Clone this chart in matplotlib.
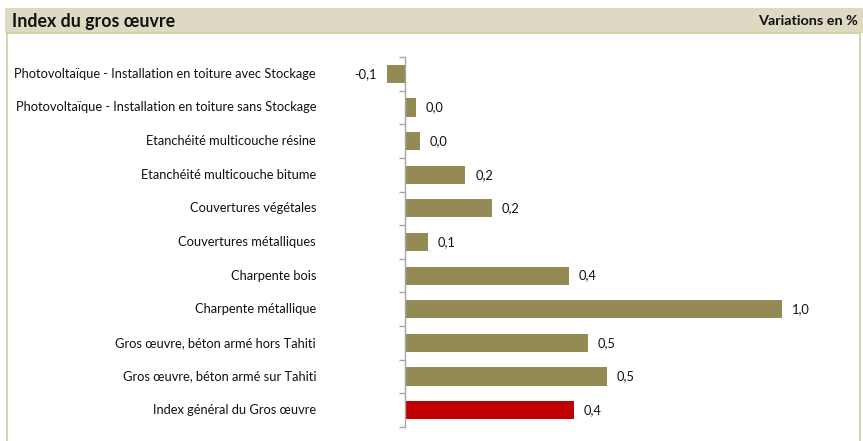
import matplotlib
matplotlib.use("Agg")
import matplotlib.pyplot as plt
from matplotlib.patches import Rectangle
from matplotlib.transforms import blended_transform_factory

categories = [
    "Photovoltaïque - Installation en toiture avec Stockage",
    "Photovoltaïque - Installation en toiture sans Stockage",
    "Etanchéité multicouche résine",
    "Etanchéité multicouche bitume",
    "Couvertures végétales",
    "Couvertures métalliques",
    "Charpente bois",
    "Charpente métallique",
    "Gros œuvre, béton armé hors Tahiti",
    "Gros œuvre, béton armé sur Tahiti",
    "Index général du Gros œuvre",
]
values = [-0.048, 0.029, 0.04, 0.16, 0.23, 0.06, 0.435, 1.0, 0.485, 0.536, 0.448]
value_labels = ["-0,1", "0,0", "0,0", "0,2", "0,2", "0,1", "0,4", "1,0", "0,5", "0,5", "0,4"]
title = "Index du gros œuvre"
subtitle = "Variations en %"

W, H = 863, 441
plt.rcParams['font.family'] = ['Lato', 'DejaVu Sans']
fig = plt.figure(figsize=(W / 100, H / 100), dpi=100)

def fx(px):
    return px / W

def fy(py):
    return 1 - py / H

# header band
fig.patches.append(Rectangle((fx(5), fy(33)), fx(858), 25 / H, transform=fig.transFigure,
                             facecolor="#DDD9C3", edgecolor="none", zorder=0))
# frame
fig.patches.append(Rectangle((fx(6.5), fy(448)), fx(853), 415 / H, transform=fig.transFigure,
                             facecolor="none", edgecolor="#C3D69B", linewidth=1.2, zorder=0))
fig.text(fx(12), fy(21), title, fontsize=12.8, fontweight="bold", ha="left", va="center", color="#111111")
fig.text(fx(858), fy(21), subtitle, fontsize=10.4, fontweight="bold", ha="right", va="center", color="#111111")

left_px, right_px = 360, 840
zero_px, one_px = 405, 782
scale = one_px - zero_px
x0 = (left_px - zero_px) / scale
x1 = (right_px - zero_px) / scale
top_px, bot_px = 57, 427
ax = fig.add_axes([fx(left_px), fy(bot_px), fx(right_px - left_px), (bot_px - top_px) / H])
ax.set_xlim(x0, x1)
n = len(categories)
ax.set_ylim(n - 0.5, -0.5)

colors = ["#948A54"] * (n - 1) + ["#C00000"]
ypos = list(range(n))
ax.barh(ypos, values, height=0.54, color=colors, zorder=2)

for s in ["top", "right", "bottom"]:
    ax.spines[s].set_visible(False)
ax.spines["left"].set_position(("data", 0))
ax.spines["left"].set_color("#A6A6A6")
ax.spines["left"].set_linewidth(1)
ax.set_xticks([])
ax.set_yticks([i - 0.5 for i in range(n + 1)])
ax.set_yticklabels([])
ax.tick_params(axis="y", length=4, color="#A6A6A6", direction="out", width=1)

pad = 10 / scale
for i, (v, lab) in enumerate(zip(values, value_labels)):
    if v >= 0:
        ax.text(v + pad, i, lab, ha="left", va="center", fontsize=9.3, color="#111111")
    else:
        ax.text(v - pad, i, lab, ha="right", va="center", fontsize=9.3, color="#111111")

trans = blended_transform_factory(fig.transFigure, ax.transData)
for i, c in enumerate(categories):
    ax.text(fx(316), i, c, transform=trans, ha="right", va="center", fontsize=9.3, color="#111111")

fig.savefig("out.png", dpi=100)
